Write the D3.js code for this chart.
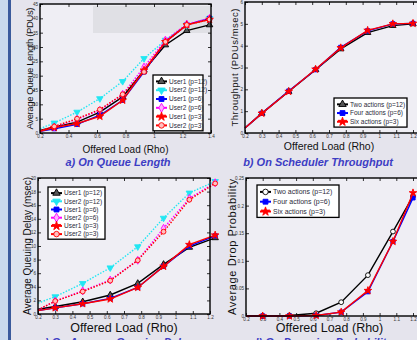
<!DOCTYPE html>
<html>
<head>
<meta charset="utf-8">
<script src="https://cdn.jsdelivr.net/npm/d3@7"></script>
<style>
  html, body { margin: 0; padding: 0; background: #e5e4ed; }
  svg { display: block; font-family: "Liberation Sans", Arial, sans-serif; }
</style>
</head>
<body>
<div id="chart"></div>
<script>
// offered load values (x)
const rhoQueue = [0.2, 0.3, 0.46, 0.62, 0.78, 0.93, 1.08, 1.23, 1.39];
const rhoThroughput = [0.2, 0.3, 0.46, 0.62, 0.77, 0.93, 1.08, 1.2];
const rhoDelay = [0.2, 0.3, 0.46, 0.62, 0.78, 0.93, 1.08, 1.23];
const rhoDrop = [0.2, 0.3, 0.46, 0.62, 0.77, 0.93, 1.08, 1.2];

// a) queue length (PDUs)
const queueU1p12 = [0.9, 2.1, 3.8, 7.3, 12.6, 21.9, 30.7, 35.7, 37.7];
const queueU2p12 = [1.5, 3.5, 7.3, 12, 18, 26, 32.4, 37.7, 40];
const queueU1p6 = [0.6, 1.5, 3.0, 6.2, 11.4, 21.3, 31.8, 37.7, 40];
const queueU2p6 = [0.8, 2.1, 4.8, 7.9, 13.5, 23, 32.4, 38, 40];
const queueU1p3 = [0.6, 1.9, 3.3, 5.8, 11.4, 21.9, 31.8, 37.7, 39.6];
const queueU2p3 = [0.8, 2.3, 5.0, 8.2, 13.5, 21.3, 31.8, 37.7, 39.6];

// b) scheduler throughput (PDUs/msec)
const thrTwo = [0.23, 0.9, 1.9, 2.9, 3.85, 4.6, 4.92, 5.0];
const thrFour = [0.23, 0.9, 1.92, 2.9, 3.92, 4.68, 5.0, 5.02];
const thrSix = [0.23, 0.9, 1.9, 2.92, 3.9, 4.7, 5.0, 5.02];

// c) queuing delay (msec)
const delayU1p12 = [0.7, 1.1, 1.8, 2.8, 4.5, 7.3, 9.8, 11.2];
const delayU2p12 = [1.6, 2.55, 4.5, 6.8, 9.9, 14.1, 17.8, 19.5];
const delayU1p6 = [0.5, 0.9, 1.5, 2.3, 3.9, 7.0, 10.0, 11.5];
const delayU2p6 = [0.6, 1.9, 3.4, 5.0, 7.9, 12.6, 17.0, 19.3];
const delayU1p3 = [0.5, 0.9, 1.5, 2.2, 3.9, 7.0, 10.2, 11.6];
const delayU2p3 = [0.6, 1.9, 3.3, 4.9, 7.9, 12.1, 16.8, 19.2];

// d) drop probability
const dropTwo = [0, 0, 0.001, 0.005, 0.025, 0.074, 0.153, 0.217];
const dropFour = [0, 0, 0, 0.001, 0.007, 0.044, 0.135, 0.214];
const dropSix = [0, 0, 0, 0.001, 0.007, 0.046, 0.135, 0.223];

// tick labels
const xTicksQueue = [0.2, 0.4, 0.6, 0.8, 1, 1.2, 1.4];
const xTicksTenth = [0.2, 0.3, 0.4, 0.5, 0.6, 0.7, 0.8, 0.9, 1, 1.1, 1.2];
const yTicksQueue = [0, 5, 10, 15, 20, 25, 30, 35, 40, 45];
const yTicksThroughput = [0, 1, 2, 3, 4, 5, 6];
const yTicksDelay = [0, 2, 4, 6, 8, 10, 12, 14, 16, 18, 20];
const yTicksDrop = [0, 0.05, 0.1, 0.15, 0.2, 0.25];

const userNames = ['User1 (p=12)', 'User2 (p=12)', 'User1 (p=6)', 'User2 (p=6)', 'User1 (p=3)', 'User2 (p=3)'];
const actionNames = ['Two actions (p=12)', 'Four actions (p=6)', 'Six actions (p=3)'];

const W = 417, H = 340;
const svg = d3.select('#chart').append('svg').attr('width', W).attr('height', H);

// slide background
svg.append('rect').attr('width', W).attr('height', H).attr('fill', '#e5e4ed');
svg.append('rect').attr('x', 0).attr('y', 0).attr('width', 8).attr('height', H).attr('fill', '#c9d9ec');
svg.append('rect').attr('x', 8).attr('y', 0).attr('width', 3).attr('height', H).attr('fill', '#3a5a9c');
[[12, 40, 26, 60], [12, 250, 24, 50]]
  .forEach(p => svg.append('rect').attr('x', p[0]).attr('y', p[1]).attr('width', p[2]).attr('height', p[3])
    .attr('fill', '#d6e5f2').attr('opacity', 0.6));

// series styles
const styles = {
  u1p12: { color: '#000000', symbol: d3.symbolTriangle, fill: '#555555', dash: null },
  u2p12: { color: '#22e6f2', symbol: d3.symbolTriangle, rotate: 180, fill: '#22e6f2', dash: '1.5,1.5' },
  u1p6: { color: '#0000ff', symbol: d3.symbolSquare, fill: '#0000ff', dash: null },
  u2p6: { color: '#ff00ff', symbol: d3.symbolDiamond, fill: '#ffb0ff', dash: '1.5,1.5' },
  u1p3: { color: '#ff0000', symbol: d3.symbolStar, fill: '#ff0000', dash: null },
  u2p3: { color: '#ff0000', symbol: d3.symbolCircle, fill: '#ffc0c0', dash: '1.5,1.5' },
  dropTwo: { color: '#000000', symbol: d3.symbolCircle, fill: '#ffffff', dash: null }
};

function drawPanel(cfg) {
  const x = d3.scaleLinear().domain(cfg.xDomain).range(cfg.xRange);
  const y = d3.scaleLinear().domain(cfg.yDomain).range(cfg.yRange);
  const g = svg.append('g');
  const [x0, x1] = cfg.xRange, [y0, y1] = cfg.yRange;

  g.append('rect').attr('x', x0).attr('y', y1).attr('width', cfg.boxRight - x0).attr('height', y0 - y1)
    .attr('fill', '#efeef4');
  if (cfg.patch) {
    g.append('rect').attr('x', cfg.patch[0]).attr('y', cfg.patch[1]).attr('width', cfg.patch[2])
      .attr('height', cfg.patch[3]).attr('fill', cfg.patch[4]);
  }

  const fmt = d => d3.format('~g')(d);
  const bottom = g.append('g').attr('transform', `translate(0,${y0})`)
    .call(d3.axisBottom(x).tickValues(cfg.xTicks).tickSize(-3).tickPadding(2).tickFormat(fmt));
  const top = g.append('g').attr('transform', `translate(0,${y1})`)
    .call(d3.axisTop(x).tickValues(cfg.xTicks).tickSize(-3).tickFormat(''));
  const left = g.append('g').attr('transform', `translate(${x0},0)`)
    .call(d3.axisLeft(y).tickValues(cfg.yTicks).tickSize(-3).tickPadding(2).tickFormat(fmt));
  const right = g.append('g').attr('transform', `translate(${cfg.boxRight},0)`)
    .call(d3.axisRight(y).tickValues(cfg.yTicks).tickSize(-3).tickFormat(''));
  [bottom, top, left, right].forEach(a => {
    a.select('.domain').remove();
    a.selectAll('line').attr('stroke', '#000').attr('stroke-width', 0.8);
    a.selectAll('text').attr('font-size', 4.6).attr('fill', '#333');
  });

  // lines and markers
  const line = d3.line().x(d => x(d[0])).y(d => y(d[1]));
  const plot = g.append('g');
  cfg.series.forEach(s => {
    const st = styles[s.style];
    const pts = cfg.xs.map((v, i) => [v, s.values[i]]);
    plot.append('path').attr('d', line(pts)).attr('fill', 'none').attr('stroke', st.color)
      .attr('stroke-width', 1.4).attr('stroke-dasharray', st.dash);
    pts.slice(1).forEach(p => {
      plot.append('path').attr('d', d3.symbol(st.symbol, cfg.markerSize)())
        .attr('transform', `translate(${x(p[0])},${y(p[1])}) rotate(${st.rotate || 0})`)
        .attr('fill', st.fill).attr('stroke', st.color).attr('stroke-width', 0.9);
    });
  });

  // frame
  g.append('rect').attr('x', x0).attr('y', y1).attr('width', cfg.boxRight - x0).attr('height', y0 - y1)
    .attr('fill', 'none').attr('stroke', '#000').attr('stroke-width', 1.4);

  // legend
  const L = cfg.legend;
  const lg = g.append('g');
  lg.append('rect').attr('x', L.x).attr('y', L.y).attr('width', L.w).attr('height', L.rowH * cfg.series.length + 3)
    .attr('fill', '#ffffff').attr('stroke', '#000').attr('stroke-width', 1.3);
  cfg.series.forEach((s, i) => {
    const st = styles[s.style];
    const cy = L.y + 2 + L.rowH * (i + 0.5);
    lg.append('line').attr('x1', L.x + 3).attr('x2', L.x + 14).attr('y1', cy).attr('y2', cy)
      .attr('stroke', st.color).attr('stroke-width', 2);
    lg.append('path').attr('d', d3.symbol(st.symbol, cfg.markerSize + 6)())
      .attr('transform', `translate(${L.x + 8.5},${cy}) rotate(${st.rotate || 0})`)
      .attr('fill', st.fill).attr('stroke', st.color).attr('stroke-width', 0.9);
    lg.append('text').attr('x', L.x + 16).attr('y', cy).attr('dy', '0.35em')
      .attr('font-size', L.font).attr('fill', '#2a2a3a').text(s.name);
  });

  // axis titles
  g.append('text').attr('x', (x0 + x1) / 2).attr('y', cfg.xTitleY).attr('text-anchor', 'middle')
    .attr('font-size', cfg.xTitleSize).attr('fill', '#111').text('Offered Load (Rho)');
  g.append('text').attr('transform', `translate(${cfg.yTitleX},${(y0 + y1) / 2}) rotate(-90)`)
    .attr('text-anchor', 'middle').attr('dy', '0.35em').attr('font-size', cfg.yTitleSize)
    .attr('textLength', cfg.yTitleLen).attr('lengthAdjust', 'spacing')
    .attr('fill', '#111').text(cfg.yTitle);
  g.append('text').attr('x', cfg.titleX).attr('y', cfg.titleY).attr('text-anchor', 'middle')
    .attr('font-size', 11).attr('font-weight', 'bold').attr('font-style', 'italic')
    .attr('fill', '#3d3dc4').text(cfg.title);
}

drawPanel({
  xs: rhoQueue, xDomain: [0.2, 1.4], xRange: [40, 211], boxRight: 211,
  yDomain: [0, 45], yRange: [133, 4], xTicks: xTicksQueue, yTicks: yTicksQueue,
  markerSize: 18,
  patch: [93, 6, 117, 27, '#e0e0e5'],
  series: [
    { name: userNames[0], values: queueU1p12, style: 'u1p12' },
    { name: userNames[1], values: queueU2p12, style: 'u2p12' },
    { name: userNames[2], values: queueU1p6, style: 'u1p6' },
    { name: userNames[3], values: queueU2p6, style: 'u2p6' },
    { name: userNames[4], values: queueU1p3, style: 'u1p3' },
    { name: userNames[5], values: queueU2p3, style: 'u2p3' }
  ],
  legend: { x: 153, y: 75, w: 50, rowH: 8.8, font: 6.5 },
  xTitleY: 153, xTitleSize: 10,
  yTitle: 'Average Queue Length (PDUs)', yTitleX: 30, yTitleSize: 9.5, yTitleLen: 122,
  title: 'a) On Queue Length', titleX: 118, titleY: 166
});

drawPanel({
  xs: rhoThroughput, xDomain: [0.2, 1.2], xRange: [245, 413], boxRight: 420,
  yDomain: [0, 6], yRange: [133, 2], xTicks: xTicksTenth, yTicks: yTicksThroughput,
  markerSize: 18,
  series: [
    { name: actionNames[0], values: thrTwo, style: 'u1p12' },
    { name: actionNames[1], values: thrFour, style: 'u1p6' },
    { name: actionNames[2], values: thrSix, style: 'u1p3' }
  ],
  legend: { x: 334, y: 98, w: 73, rowH: 8.7, font: 6.5 },
  xTitleY: 150, xTitleSize: 10.5,
  yTitle: 'Throughput (PDUs/msec)', yTitleX: 235, yTitleSize: 9.5, yTitleLen: 118,
  title: 'b) On Scheduler Throughput', titleX: 318, titleY: 166
});

drawPanel({
  xs: rhoDelay, xDomain: [0.2, 1.2], xRange: [38, 210], boxRight: 210,
  yDomain: [0, 20], yRange: [314, 178], xTicks: xTicksTenth, yTicks: yTicksDelay,
  markerSize: 18,
  series: [
    { name: userNames[0], values: delayU1p12, style: 'u1p12' },
    { name: userNames[1], values: delayU2p12, style: 'u2p12' },
    { name: userNames[2], values: delayU1p6, style: 'u1p6' },
    { name: userNames[3], values: delayU2p6, style: 'u2p6' },
    { name: userNames[4], values: delayU1p3, style: 'u1p3' },
    { name: userNames[5], values: delayU2p3, style: 'u2p3' }
  ],
  legend: { x: 48, y: 187, w: 57, rowH: 8.2, font: 6.5 },
  xTitleY: 332, xTitleSize: 12.5,
  yTitle: 'Average Queuing Delay (msec)', yTitleX: 27, yTitleSize: 10, yTitleLen: 138,
  title: 'c) On Average Queuing Delay', titleX: 116, titleY: 346
});

drawPanel({
  xs: rhoDrop, xDomain: [0.2, 1.2], xRange: [246, 413], boxRight: 420,
  yDomain: [0, 0.25], yRange: [316, 178], xTicks: xTicksTenth, yTicks: yTicksDrop,
  markerSize: 18,
  series: [
    { name: actionNames[0], values: dropTwo, style: 'dropTwo' },
    { name: actionNames[1], values: dropFour, style: 'u1p6' },
    { name: actionNames[2], values: dropSix, style: 'u1p3' }
  ],
  legend: { x: 257, y: 185, w: 82, rowH: 9.8, font: 7 },
  xTitleY: 332, xTitleSize: 12.5,
  yTitle: 'Average Drop Probability', yTitleX: 232, yTitleSize: 11, yTitleLen: 136,
  title: 'd) On Dropping Probability', titleX: 322, titleY: 346
});
</script>
</body>
</html>
